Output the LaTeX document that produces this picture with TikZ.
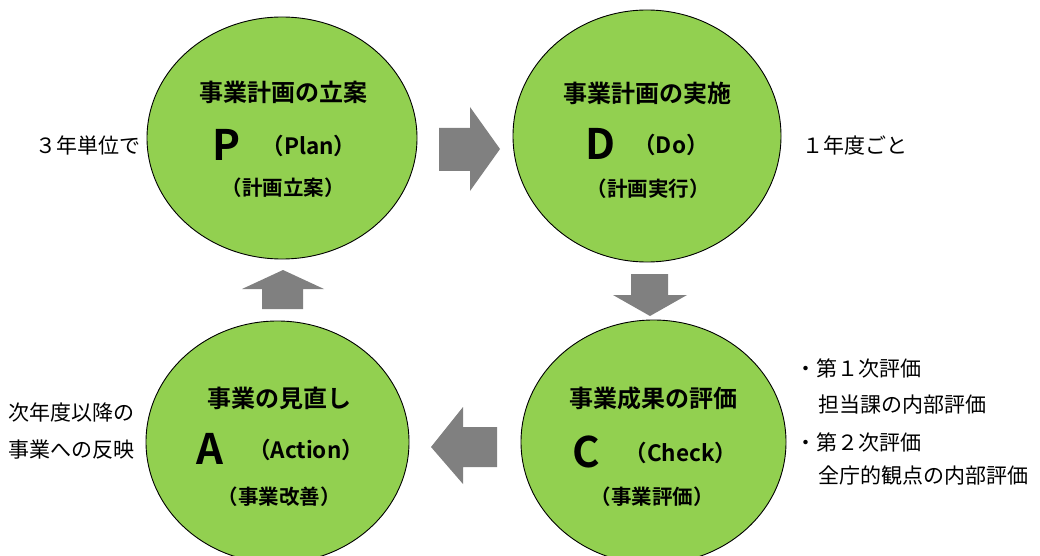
\documentclass[tikz,border=0pt]{standalone}
\usepackage{fontspec}
\setmainfont{Noto Sans CJK JP}[BoldFont={Noto Sans CJK JP Bold}]
\usetikzlibrary{shapes.geometric}
\definecolor{pdcagreen}{HTML}{92D050}
\definecolor{arrowgray}{HTML}{808080}
\tikzset{
  phase/.style={ellipse, draw=black, line width=0.9pt, fill=pdcagreen, inner sep=0pt},
  ttl/.style={font=\bfseries\fontsize{24}{28}\selectfont, inner sep=0pt},
  big/.style={font=\bfseries\fontsize{42}{46}\selectfont, inner sep=0pt},
  eng/.style={font=\bfseries\fontsize{22.5}{26}\selectfont, inner sep=0pt},
  sub/.style={font=\bfseries\fontsize{20.5}{24}\selectfont, inner sep=0pt},
  side/.style={font=\fontsize{21}{25}\selectfont, inner sep=0pt},
  blockarrow/.style={fill=arrowgray, draw=none}
}
\begin{document}
\begin{tikzpicture}[x=1pt,y=-1pt]
\useasboundingbox (0,0) rectangle (1040,556);
% circles
\node[phase, minimum width=270pt, minimum height=242pt] (P) at (282,138) {};
\node[phase, minimum width=268pt, minimum height=252pt] (D) at (647,136) {};
\node[phase, minimum width=263pt, minimum height=242pt] (A) at (277.5,442) {};
\node[phase, minimum width=265pt, minimum height=244pt] (C) at (653.5,442) {};
% block arrows
\fill[blockarrow] (439,128) -- (470,128) -- (470,107) -- (500,149) -- (470,191) -- (470,171) -- (439,171) -- cycle;
\fill[blockarrow] (631,274) -- (668,274) -- (668,295) -- (687,295) -- (650,316) -- (613,295) -- (631,295) -- cycle;
\fill[blockarrow] (497,427) -- (463,427) -- (463,407) -- (431,447) -- (463,484) -- (463,467) -- (497,467) -- cycle;
\fill[blockarrow] (262,309) -- (303,309) -- (303,289) -- (324,289) -- (283,270) -- (242,289) -- (262,289) -- cycle;
% P
\node[ttl] (Pt) at (283,92) {事業計画の立案};
\node[big] (Pl) at (227,145) {P};
\node[eng] (Pe) at (309,146) {（Plan）};
\node[sub] (Ps) at (283,188) {（計画立案）};
% D
\node[ttl] (Dt) at (647,93) {事業計画の実施};
\node[big] (Dl) at (600,144) {D};
\node[eng] (De) at (671,145) {（Do）};
\node[sub] (Ds) at (648,189) {（計画実行）};
% A
\node[ttl] (At) at (279,398) {事業の見直し};
\node[big] (Al) at (210,449) {A};
\node[eng] (Ae) at (306,450) {（Action）};
\node[sub] (As) at (279,497) {（事業改善）};
% C
\node[ttl] (Ct) at (653,398) {事業成果の評価};
\node[big] (Cl) at (586,452) {C};
\node[eng] (Ce) at (681,453) {（Check）};
\node[sub] (Cs) at (652,497) {（事業評価）};
% side texts
\node[side] (s1) at (88,145) {３年単位で};
\node[side] (s2) at (855,145) {１年度ごと};
\node[side, anchor=west] (l1) at (8,413) {次年度以降の};
\node[side, anchor=west] (l2) at (8,450) {事業への反映};
\node[side, anchor=west] (r1) at (795,368) {・第１次評価};
\node[side, anchor=west] (r2) at (818,405) {担当課の内部評価};
\node[side, anchor=west] (r3) at (795,442) {・第２次評価};
\node[side, anchor=west] (r4) at (818,475) {全庁的観点の内部評価};
\end{tikzpicture}
\end{document}
